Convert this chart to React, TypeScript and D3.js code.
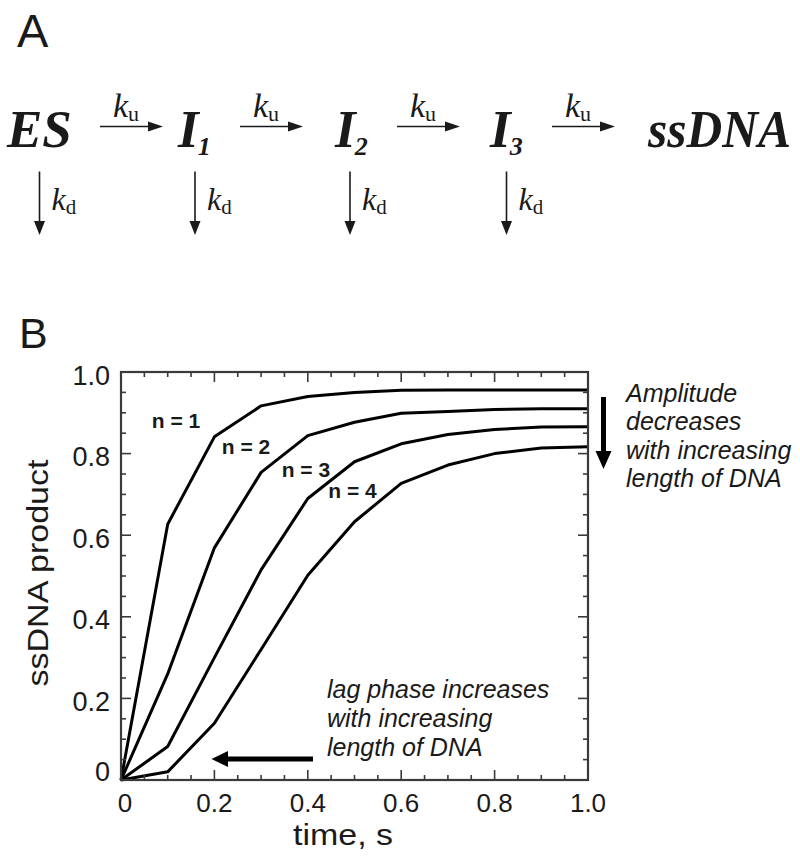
import React from "react";
import { scaleLinear, line } from "d3";

// time points of the simulated curves (s)
const times = [0, 0.1, 0.2, 0.3, 0.4, 0.5, 0.6, 0.7, 0.8, 0.9, 1.0];
// fraction of ssDNA product for n = 1..4 steps
const productN1 = [0, 0.627, 0.841, 0.917, 0.94, 0.95, 0.955, 0.956, 0.956, 0.956, 0.956];
const productN2 = [0, 0.26, 0.569, 0.754, 0.844, 0.877, 0.899, 0.903, 0.908, 0.91, 0.91];
const productN3 = [0, 0.082, 0.3, 0.515, 0.69, 0.78, 0.824, 0.847, 0.859, 0.865, 0.866];
const productN4 = [0, 0.02, 0.139, 0.32, 0.502, 0.633, 0.727, 0.772, 0.8, 0.814, 0.817];
const seriesLabels = ["n = 1", "n = 2", "n = 3", "n = 4"];

// scheme A
const species = ["ES", "I", "I", "I", "ssDNA"];
const speciesSub = ["", "1", "2", "3", ""];

const sans = "'Liberation Sans', Arial, sans-serif";
const serif = "'Liberation Serif', 'Times New Roman', serif";
const ink = "#1a1a1a";

const Scheme = () => {
  const speciesX = [7, 178, 335, 490, 648];
  const rightArrows = [100, 240, 397, 552];
  const downArrows = [39.5, 195, 350, 506.5];
  const baseY = 146.5;

  return (
    <g>
      <text x={17} y={47} fontFamily={sans} fontSize={47} fill={ink}>A</text>
      {species.map((s, i) => (
        <text key={i} x={speciesX[i]} y={baseY} fontFamily={serif} fontWeight="bold"
          fontStyle="italic" fontSize={53} fill={ink}
          {...(s === "ssDNA" ? { textLength: 143, lengthAdjust: "spacingAndGlyphs" } : {})}>
          {s}
          {speciesSub[i] && (
            <tspan fontSize={26} dx={-1} dy={8}>{speciesSub[i]}</tspan>
          )}
        </text>
      ))}
      {rightArrows.map((x, i) => (
        <g key={i}>
          <line x1={x} x2={x + 50} y1={126.5} y2={126.5} stroke={ink} strokeWidth={1.6} />
          <path d={`M${x + 63},126.5 L${x + 48},121.5 L${x + 48},131.5 Z`} fill={ink} />
          <text x={x + 13} y={116.5} fontFamily={serif} fontStyle="italic" fontSize={34} fill={ink}>
            k<tspan fontStyle="normal" fontSize={22} dy={4}>u</tspan>
          </text>
        </g>
      ))}
      {downArrows.map((x, i) => (
        <g key={i}>
          <line x1={x} x2={x} y1={171.5} y2={224} stroke={ink} strokeWidth={1.6} />
          <path d={`M${x},235 L${x - 5.5},221 L${x + 5.5},221 Z`} fill={ink} />
          <text x={x + 12} y={210} fontFamily={serif} fontStyle="italic" fontSize={32} fill={ink}>
            k<tspan fontStyle="normal" fontSize={21} dy={4}>d</tspan>
          </text>
        </g>
      ))}
    </g>
  );
};

const Plot = () => {
  const left = 121, right = 588, top = 372, bottom = 780;

  const xScale = scaleLinear().domain([0, 1]).range([left, right]);
  const yScale = scaleLinear().domain([0, 1]).range([bottom, top]);

  const series = [productN1, productN2, productN3, productN4];
  const path = line<number>()
    .x((_, i) => xScale(times[i]))
    .y((d) => yScale(d));

  const minorX = xScale.ticks(20);
  const majorX = xScale.ticks(5);
  const minorY = yScale.ticks(20);
  const majorY = yScale.ticks(5);
  const fmt = (v: number) => (v === 0 ? "0" : v.toFixed(1));
  const isMajor = (v: number, majors: number[]) => majors.some((m) => Math.abs(m - v) < 1e-9);

  // n label anchors, data units
  const labelT = [0.066, 0.216, 0.344, 0.444];
  const labelV = [0.863, 0.8, 0.743, 0.69];

  return (
    <g>
      <text x={19} y={348} fontFamily={sans} fontSize={43} fill={ink}>B</text>

      {series.map((d, i) => (
        <path key={i} d={path(d) ?? ""} fill="none" stroke="#000" strokeWidth={3}
          strokeLinejoin="round" />
      ))}

      {seriesLabels.map((l, i) => (
        <text key={l} x={xScale(labelT[i])} y={yScale(labelV[i])} fontFamily={sans}
          fontWeight="bold" fontSize={21} fill={ink}>{l}</text>
      ))}

      {/* frame and inward ticks */}
      <rect x={left} y={top} width={right - left} height={bottom - top} fill="none"
        stroke="#3a3a3a" strokeWidth={2.2} />
      {minorX.map((t) => {
        const len = isMajor(t, majorX) ? 10 : 5;
        return (
          <g key={"x" + t} stroke="#3a3a3a" strokeWidth={1.6}>
            <line x1={xScale(t)} x2={xScale(t)} y1={bottom} y2={bottom - len} />
            <line x1={xScale(t)} x2={xScale(t)} y1={top} y2={top + len} />
          </g>
        );
      })}
      {minorY.map((t) => {
        const len = isMajor(t, majorY) ? 10 : 5;
        return (
          <g key={"y" + t} stroke="#3a3a3a" strokeWidth={1.6}>
            <line x1={left} x2={left + len} y1={yScale(t)} y2={yScale(t)} />
            <line x1={right} x2={right - len} y1={yScale(t)} y2={yScale(t)} />
          </g>
        );
      })}

      {majorX.map((t) => (
        <text key={"xl" + t} x={xScale(t) + (t === 0 ? 4 : 0)} y={812} textAnchor="middle"
          fontFamily={sans} fontSize={26} fill={ink}>{fmt(t)}</text>
      ))}
      {majorY.map((t) => (
        <text key={"yl" + t} x={110} y={yScale(t) + (t === 0 ? 1 : 12.5)} textAnchor="end"
          fontFamily={sans} fontSize={27} fill={ink}>{fmt(t)}</text>
      ))}

      <text x={343} y={845} textAnchor="middle" fontFamily={sans} fontSize={30}
        textLength={100} lengthAdjust="spacingAndGlyphs" fill={ink}>time, s</text>
      <text transform={`translate(48,${573}) rotate(-90)`} textAnchor="middle"
        fontFamily={sans} fontSize={30} textLength={227} lengthAdjust="spacingAndGlyphs"
        fill={ink}>ssDNA product</text>

      {/* amplitude note */}
      <rect x={601} y={397} width={5} height={55} fill="#000" />
      <path d="M603.5,469 L595.5,451 L611.5,451 Z" fill="#000" />
      {["Amplitude", "decreases", "with increasing", "length of DNA"].map((s, i) => (
        <text key={s} x={626} y={402 + i * 28.4} fontFamily={sans} fontStyle="italic"
          fontSize={25} fill={ink}>{s}</text>
      ))}

      {/* lag phase note */}
      <rect x={227} y={756.5} width={86} height={5} fill="#000" />
      <path d="M211.5,759 L228,751 L228,767 Z" fill="#000" />
      {["lag phase increases", "with increasing", "length of DNA"].map((s, i) => (
        <text key={s} x={327} y={697.5 + i * 29} fontFamily={sans} fontStyle="italic"
          fontSize={25} fill={ink}>{s}</text>
      ))}
    </g>
  );
};

export default function App() {
  return (
    <svg width={800} height={860} viewBox="0 0 800 860"
      style={{ position: "absolute", left: 0, top: 0, background: "#fff" }}>
      <Scheme />
      <Plot />
    </svg>
  );
}
